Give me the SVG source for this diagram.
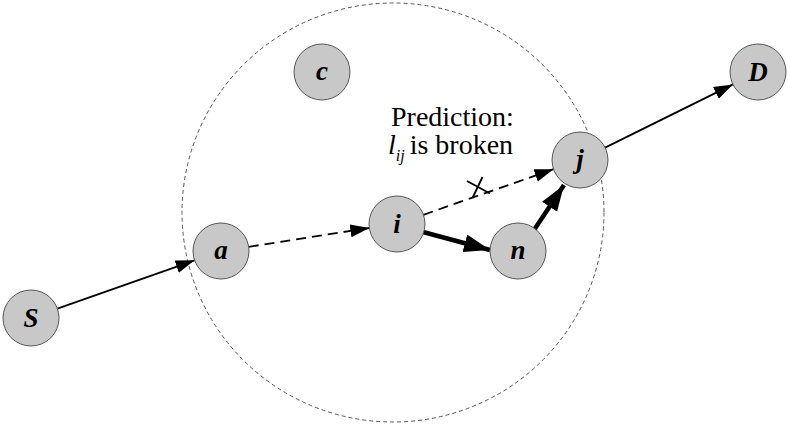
<svg xmlns="http://www.w3.org/2000/svg" width="788" height="425" viewBox="0 0 788 425">
<style>
.node circle{fill:#c8c8c8;stroke:#555;stroke-width:1}
.node text{font-family:"Liberation Serif","Times New Roman",serif;font-style:italic;font-weight:bold;font-size:27px;text-anchor:middle;fill:#000}
.thin{stroke:#000;stroke-width:1.8;fill:none}
.dash{stroke:#000;stroke-width:1.8;fill:none;stroke-dasharray:10 6}
.thick{stroke:#000;stroke-width:4.5;fill:none}
.lbl{font-family:"Liberation Serif","Times New Roman",serif;font-size:28px;fill:#000}
</style>
<defs>
<marker id="ah" markerUnits="userSpaceOnUse" markerWidth="20" markerHeight="14" refX="19" refY="6.5" orient="auto">
<path d="M0,0 L19,6.5 L0,13 z" fill="#000"/>
</marker>
<marker id="ahb" markerUnits="userSpaceOnUse" markerWidth="28" markerHeight="20" refX="26" refY="9" orient="auto">
<path d="M0,0 L26,9 L0,18 z" fill="#000"/>
</marker>
</defs>
<ellipse id="range" cx="393" cy="212.5" rx="211" ry="209.5" fill="none" stroke="#555" stroke-width="1" stroke-dasharray="4 3"/>
<g id="connectors">
<line class="thin" x1="57.4" y1="308.7" x2="194.6" y2="260.3" marker-end="url(#ah)"/>
<line class="dash" x1="248.7" y1="246.8" x2="369.3" y2="228" marker-end="url(#ah)"/>
<line class="dash" x1="423.4" y1="214.8" x2="553.6" y2="169.2" marker-end="url(#ah)"/>
<line class="thick" x1="423" y1="232" x2="490" y2="250" marker-end="url(#ahb)"/>
<line class="thick" x1="534" y1="230" x2="564" y2="185" marker-end="url(#ahb)"/>
<line class="thin" x1="605.1" y1="147.6" x2="732.9" y2="84.4" marker-end="url(#ah)"/>
<g id="break-mark" stroke="#000" stroke-width="1.8">
<line x1="467" y1="181" x2="490" y2="193.5"/>
<line x1="482.5" y1="177" x2="472.5" y2="198"/>
</g>
</g>
<g id="label">
<text class="lbl" x="391" y="126">Prediction:</text>
<text class="lbl" x="388" y="154"><tspan font-style="italic">l</tspan><tspan font-style="italic" font-size="16" dy="7">ij</tspan><tspan dy="-7" dx="5">is broken</tspan></text>
</g>
<g id="node-S" class="node"><circle cx="31" cy="318" r="28"/><text x="31" y="327">S</text></g>
<g id="node-a" class="node"><circle cx="221" cy="251" r="28"/><text x="221" y="259">a</text></g>
<g id="node-c" class="node"><circle cx="322" cy="72" r="28"/><text x="322" y="80">c</text></g>
<g id="node-i" class="node"><circle cx="397" cy="224" r="28"/><text x="397" y="233">i</text></g>
<g id="node-n" class="node"><circle cx="518" cy="251" r="28"/><text x="518" y="259">n</text></g>
<g id="node-j" class="node"><circle cx="580" cy="160" r="28"/><text x="580" y="168">j</text></g>
<g id="node-D" class="node"><circle cx="758" cy="72" r="28"/><text x="758" y="81">D</text></g>
</svg>
